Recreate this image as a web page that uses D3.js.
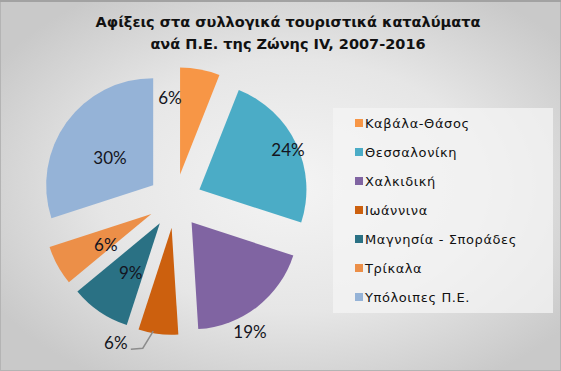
<!DOCTYPE html>
<html>
<head>
<meta charset="utf-8">
<script src="https://cdn.jsdelivr.net/npm/d3@7"></script>
<style>
  body { margin: 0; padding: 0; background: #fff; }
  svg { display: block; }
</style>
</head>
<body>
<svg id="chart" width="561" height="371"></svg>
<script>
// donnees du graphique
var titleLines = ["Αφίξεις στα συλλογικά τουριστικά καταλύματα", "ανά Π.Ε. της Ζώνης IV, 2007-2016"];
var regions = ["Καβάλα-Θάσος", "Θεσσαλονίκη", "Χαλκιδική", "Ιωάννινα", "Μαγνησία - Σποράδες", "Τρίκαλα", "Υπόλοιπες Π.Ε."];
var shares = [6, 24, 19, 6, 9, 6, 30];
var colors = ["#F79646", "#4BACC6", "#8064A2", "#CC600E", "#2A7184", "#EC8F48", "#95B3D7"];

// placement des etiquettes (angle en degres, rayon depuis le centre)
var labelLayout = [[-2.8, 103], [65.7, 124], [150.2, 151], [202.6, 154], [211.8, 84], [237.5, 82], [303.5, 78]];

let svg = d3.select("#chart");
let width = 561, height = 371;

let defs = svg.append("defs");
let grad = defs.append("radialGradient")
    .attr("id", "bg")
    .attr("cx", "52%").attr("cy", "50%").attr("r", "62%");
grad.append("stop").attr("offset", "0%").attr("stop-color", "#f4f4f4");
grad.append("stop").attr("offset", "55%").attr("stop-color", "#e6e6e6");
grad.append("stop").attr("offset", "100%").attr("stop-color", "#c9c9c9");

svg.append("rect")
    .attr("width", width).attr("height", height)
    .attr("fill", "url(#bg)");
svg.append("rect")
    .attr("x", 0.5).attr("y", 0.5)
    .attr("width", width - 1).attr("height", height - 1)
    .attr("fill", "none")
    .attr("stroke", "#b4b4b4");
svg.append("rect")
    .attr("width", width).attr("height", 2)
    .attr("fill", "#a2a2a2");

// titre
svg.append("g").selectAll("text")
    .data(titleLines)
    .enter().append("text")
    .attr("x", 288)
    .attr("y", (d, i) => 27 + i * 22)
    .attr("text-anchor", "middle")
    .style("font-family", "'DejaVu Sans', sans-serif")
    .style("font-weight", "bold")
    .style("font-size", "14.5px")
    .attr("fill", "#111")
    .text(d => d);

// camembert
let cx = 175, cy = 201, radius = 107, explode = 27;

let pie = d3.pie().sort(null).value(d => d);
let arc = d3.arc().innerRadius(0).outerRadius(radius);
let arcs = pie(shares);

function polar(a, r) {
    return [Math.sin(a) * r, -Math.cos(a) * r];
}

let body = svg.append("g").attr("transform", "translate(" + cx + "," + cy + ")");

body.selectAll(".slice")
    .data(arcs)
    .enter().append("path")
    .attr("class", "slice")
    .attr("transform", d => {
        let p = polar((d.startAngle + d.endAngle) / 2, explode);
        return "translate(" + p[0] + "," + p[1] + ")";
    })
    .attr("d", arc)
    .attr("fill", (d, i) => colors[i]);

// trait de rappel pour Ioannina
let ioa = arcs[3];
let ioaMid = (ioa.startAngle + ioa.endAngle) / 2;
let off = polar(ioaMid, explode);
let edge = polar(ioaMid + 0.05, radius - 2);
let lp = polar(labelLayout[3][0] * Math.PI / 180, labelLayout[3][1]);
body.append("path")
    .attr("d", d3.line()([
        [lp[0] + 15, lp[1] + 6],
        [lp[0] + 27, lp[1] + 5],
        [off[0] + edge[0], off[1] + edge[1]]
    ]))
    .attr("fill", "none")
    .attr("stroke", "#8c8c8c")
    .attr("stroke-width", 1.5);

body.selectAll(".lbl")
    .data(arcs)
    .enter().append("text")
    .attr("class", "lbl")
    .attr("transform", (d, i) => {
        let p = polar(labelLayout[i][0] * Math.PI / 180, labelLayout[i][1]);
        return "translate(" + p[0] + "," + p[1] + ")";
    })
    .attr("text-anchor", "middle")
    .attr("dy", "0.36em")
    .style("font-family", "Lato, sans-serif")
    .style("font-size", "17px")
    .attr("fill", "#141420")
    .text(d => d.data + "%");

// legende
let legend = svg.append("g");
legend.append("rect")
    .attr("x", 333).attr("y", 108)
    .attr("width", 220).attr("height", 205)
    .attr("fill", "#f4f4f4")
    .attr("fill-opacity", 0.75);

let y = d3.scalePoint().domain(regions).range([123, 297]);

let item = legend.selectAll(".item")
    .data(regions)
    .enter().append("g")
    .attr("class", "item")
    .attr("transform", d => "translate(355," + y(d) + ")");
item.append("rect")
    .attr("x", 0).attr("y", -4)
    .attr("width", 8).attr("height", 8)
    .attr("fill", (d, i) => colors[i]);
item.append("text")
    .attr("x", 10)
    .attr("dy", "0.36em")
    .style("font-family", "'DejaVu Sans', sans-serif")
    .style("font-size", "13px")
    .style("letter-spacing", "0.6px")
    .attr("fill", "#111")
    .text(d => d);
</script>
</body>
</html>
